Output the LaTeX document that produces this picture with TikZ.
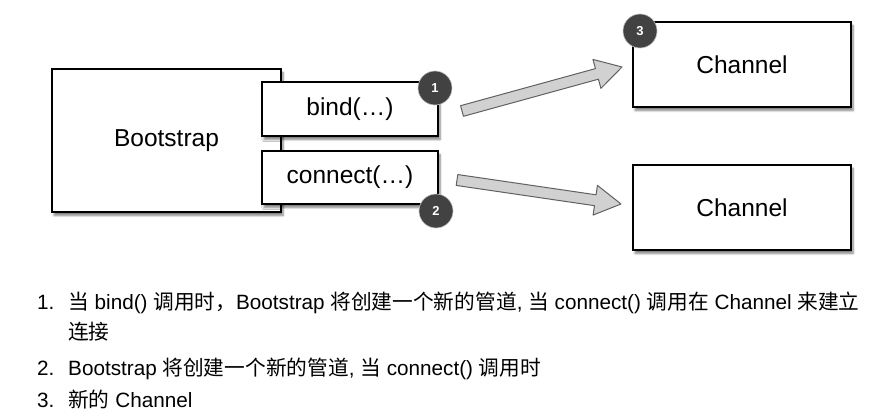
\documentclass[tikz,border=0pt]{standalone}
\usepackage{fontspec}
\setmainfont{Liberation Sans}
\newfontfamily\cjk{Noto Sans CJK SC}
\usetikzlibrary{calc,shadows.blur}
\begin{document}
\begin{tikzpicture}[x=1pt,y=-1pt,
  box/.style={draw=black, line width=1.4pt, fill=white, inner sep=0pt,
    font=\fontsize{24.5}{28}\selectfont,
    blur shadow={shadow xshift=2pt, shadow yshift=-3.5pt, shadow blur steps=6, shadow opacity=50}},
  badge/.style={circle, fill=black!74, draw=black!25, line width=0.6pt, text=white,
    font=\bfseries\fontsize{13}{14}\selectfont, minimum size=34pt, inner sep=0pt},
  fatarrow/.style={fill=black!18, draw=black!62, line width=1pt, line join=round},
  listtext/.style={anchor=base west, inner sep=0pt, font=\fontsize{20.7}{24}\selectfont}
]
\useasboundingbox (0,0) rectangle (888,417);

% boxes
\node[box, minimum width=229pt, minimum height=143pt] (boot) at (166.5,140.5) {Bootstrap};
\node[box, minimum width=176pt, minimum height=54pt] (bind) at (350,109) {bind(…)};
\node[box, minimum width=176pt, minimum height=53pt] (conn) at (350,177.5) {connect(…)};
\node[box, minimum width=218pt, minimum height=85pt] (ch1) at (742,64.5) {Channel};
\node[box, minimum width=218pt, minimum height=85pt] (ch2) at (742,207.5) {Channel};

% badges
\node[badge] (b1) at (435,88) {1};
\node[badge] (b2) at (436,211) {2};
\node[badge] (b3) at (640,31) {3};

% fat arrows
\coordinate (t1) at (462,111);
\coordinate (p1) at (622,67);
\coordinate (t2) at (457,180);
\coordinate (p2) at (621,204);
\coordinate (h1) at ($(p1)!26pt!(t1)$);
\coordinate (h2) at ($(p2)!26pt!(t2)$);
\draw[fatarrow] ($(t1)!5.5pt!90:(p1)$) -- ($(h1)!5.5pt!-90:(t1)$) -- ($(h1)!15pt!-90:(t1)$)
  -- (p1) -- ($(h1)!15pt!90:(t1)$) -- ($(h1)!5.5pt!90:(t1)$) -- ($(t1)!5.5pt!-90:(p1)$) -- cycle;
\draw[fatarrow] ($(t2)!5.5pt!90:(p2)$) -- ($(h2)!5.5pt!-90:(t2)$) -- ($(h2)!15pt!-90:(t2)$)
  -- (p2) -- ($(h2)!15pt!90:(t2)$) -- ($(h2)!5.5pt!90:(t2)$) -- ($(t2)!5.5pt!-90:(p2)$) -- cycle;

% list
\node[listtext] (n1) at (37,309) {1.};
\node[listtext] (l1) at (68,309) {{\cjk 当} bind() {\cjk 调用时，}Bootstrap {\cjk 将创建一个新的管道}, {\cjk 当} connect() {\cjk 调用在} Channel {\cjk 来建立}};
\node[listtext] (l1b) at (68,339) {{\cjk 连接}};
\node[listtext] (n2) at (37,375) {2.};
\node[listtext] (l2) at (68,375) {Bootstrap {\cjk 将创建一个新的管道}, {\cjk 当} connect() {\cjk 调用时}};
\node[listtext] (n3) at (37,407) {3.};
\node[listtext] (l3) at (68,407) {{\cjk 新的} Channel};
\end{tikzpicture}
\end{document}
